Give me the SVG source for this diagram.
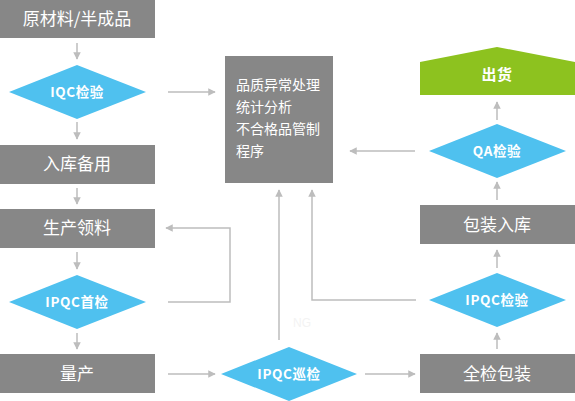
<svg xmlns="http://www.w3.org/2000/svg" width="575" height="401" viewBox="0 0 575 401">
<defs>
<style>
.box{fill:#878787}
.dia{fill:#4fc1ef}
.bt{font-family:"Noto Sans CJK SC","Noto Sans",sans-serif;font-size:17px;fill:#fff;text-anchor:middle}
.dt{font-family:"Noto Sans CJK SC","Noto Sans",sans-serif;font-size:13.5px;font-weight:bold;fill:#fff;text-anchor:middle;letter-spacing:0.6px}
.ct{font-family:"Noto Sans CJK SC","Noto Sans",sans-serif;font-size:14px;fill:#fff}
.ln{fill:none;stroke:#bdbdbd;stroke-width:1.5}
</style>
<marker id="ah" viewBox="0 0 10 10" refX="9" refY="5" markerWidth="5" markerHeight="5" orient="auto">
<path d="M0,0L10,5L0,10z" fill="#bdbdbd"/>
</marker>
</defs>
<rect width="575" height="401" fill="#fff"/>
<g id="connectors">
<path class="ln" d="M77,43V59" marker-end="url(#ah)"/>
<path class="ln" d="M77,122V139" marker-end="url(#ah)"/>
<path class="ln" d="M77,188V204" marker-end="url(#ah)"/>
<path class="ln" d="M77,252V269" marker-end="url(#ah)"/>
<path class="ln" d="M77,333V349" marker-end="url(#ah)"/>
<path class="ln" d="M168,374H215" marker-end="url(#ah)"/>
<path class="ln" d="M365,374H415" marker-end="url(#ah)"/>
<path class="ln" d="M497,349V333" marker-end="url(#ah)"/>
<path class="ln" d="M497,268V250" marker-end="url(#ah)"/>
<path class="ln" d="M497,200V182" marker-end="url(#ah)"/>
<path class="ln" d="M497,120V102" marker-end="url(#ah)"/>
<path class="ln" d="M168,92H215" marker-end="url(#ah)"/>
<path class="ln" d="M415,151H350" marker-end="url(#ah)"/>
<path class="ln" d="M279,340V190" marker-end="url(#ah)"/>
<path class="ln" d="M416,300H312V190" marker-end="url(#ah)"/>
<path class="ln" d="M168,302H230V228H166" marker-end="url(#ah)"/>
<text x="302" y="327" font-family="Liberation Sans,sans-serif" font-size="12" fill="#f3f3f3" text-anchor="middle">NG</text>
</g>
<g id="n1"><rect class="box" x="0" y="0" width="155" height="38"/><text class="bt" x="77" y="25">原材料/半成品</text></g>
<g id="n2"><path class="dia" d="M9,92L77,65L146,92L77,119z"/><text class="dt" x="77" y="97">IQC检验</text></g>
<g id="n3"><rect class="box" x="0" y="145" width="155" height="39"/><text class="bt" x="77" y="170">入库备用</text></g>
<g id="n4"><rect class="box" x="0" y="209" width="155" height="39"/><text class="bt" x="77" y="234">生产领料</text></g>
<g id="n5"><path class="dia" d="M9,302L77,275L146,302L77,329z"/><text class="dt" x="77" y="307">IPQC首检</text></g>
<g id="n6"><rect class="box" x="0" y="354" width="155" height="39"/><text class="bt" x="77" y="380">量产</text></g>
<g id="n7"><path class="dia" d="M221,374L289,347L357,374L289,401z"/><text class="dt" x="289" y="379">IPQC巡检</text></g>
<g id="n8"><rect class="box" x="420" y="354" width="155" height="39"/><text class="bt" x="497" y="380">全检包装</text></g>
<g id="n9"><path class="dia" d="M429,300L497,273L566,300L497,327z"/><text class="dt" x="497" y="305">IPQC检验</text></g>
<g id="n10"><rect class="box" x="420" y="205" width="155" height="39"/><text class="bt" x="497" y="231">包装入库</text></g>
<g id="n11"><path class="dia" d="M429,151L497,124L566,151L497,178z"/><text class="dt" x="497" y="156">QA检验</text></g>
<g id="n12"><path d="M420,62L497,47L575,62V95H420z" fill="#8dc21f"/><text class="dt" x="497" y="80" style="font-size:15px">出货</text></g>
<g id="n13"><rect class="box" x="225" y="56" width="108" height="127"/>
<text class="ct" x="236" y="90">品质异常处理</text>
<text class="ct" x="236" y="112">统计分析</text>
<text class="ct" x="236" y="134">不合格品管制</text>
<text class="ct" x="236" y="156">程序</text></g>
</svg>
